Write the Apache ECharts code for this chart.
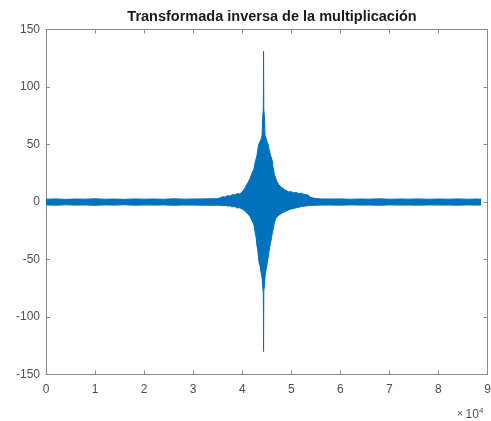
<!DOCTYPE html>
<html>
<head>
<meta charset="utf-8">
<script src="https://cdn.jsdelivr.net/npm/echarts@6/dist/echarts.min.js"></script>
<style>
  html, body { margin: 0; padding: 0; background: #fff; }
  #chart { width: 491px; height: 421px; }
</style>
</head>
<body>
<div id="chart"></div>
<script>
// Sample positions (index) at which the waveform's envelope is given
var sampleIdx = [
  0, 2000, 4000, 6000, 8000, 10000, 12000, 14000, 16000, 18000,
  20000, 22000, 24000, 26000, 28000, 30000, 32000, 34000,
  35000, 35500, 36000, 36500, 37000, 37500, 38000, 38500, 39000, 39500,
  40000, 40300, 40600, 40800, 41000, 41300, 41600, 41800, 42000, 42200,
  42400, 42650, 42850, 43000, 43150, 43260, 43450, 43600, 43800, 43950,
  44050, 44200, 44300, 44350, 44400, 44500, 44650, 44750, 44900, 45000,
  45150, 45300, 45450, 45600, 45750, 45900, 46120, 46300, 46400, 46550,
  46730, 46950, 47200, 47450, 47700, 47950, 48160, 48600, 49000, 49500,
  50000, 50500, 51000, 51500, 52000, 52600, 53300, 53900, 54500, 55200,
  56000,
  58000, 60000, 62000, 64000, 66000, 68000, 70000, 72000, 74000, 76000,
  78000, 80000, 82000, 84000, 86000, 88000, 88700
];
// Upper (max) envelope of the signal
var upperVals = [
  2.4, 2.7, 2.3, 2.6, 2.5, 2.8, 2.4, 2.6, 2.3, 2.7,
  2.5, 2.6, 2.4, 2.8, 2.5, 2.6, 2.7, 2.8,
  2.9, 3.6, 4.6, 4.3, 5.5, 5.1, 6.4, 6.1, 7.3, 7.0,
  8.6, 10.5, 12.5, 14.2, 13.8, 18, 20.5, 23, 22.5, 27,
  29, 35, 34.5, 40, 45, 48, 51, 50.5, 54, 56,
  58, 76, 80, 131, 80, 76, 58, 56.5, 55, 53,
  52, 50, 46, 45, 41, 39.5, 36, 30, 28.5, 24,
  22, 19, 17.5, 15, 14.6, 13, 13.3, 10.8, 10.2, 8.8,
  9.0, 8.0, 8.3, 7.4, 7.7, 6.6, 6.2, 4.2, 3.4, 3.0,
  2.7,
  2.6, 2.7, 2.4, 2.6, 2.5, 2.8, 2.4, 2.6, 2.5, 2.7,
  2.4, 2.6, 2.5, 2.7, 2.4, 2.6, 2.5
];
// Lower (min) envelope of the signal
var lowerVals = [
  -2.5, -2.8, -2.4, -2.7, -2.6, -2.9, -2.5, -2.7, -2.4, -2.8,
  -2.6, -2.7, -2.5, -2.9, -2.6, -2.7, -2.8, -2.8,
  -2.8, -2.9, -3.2, -3.0, -3.5, -3.3, -4.2, -4.0, -5.2, -5.0,
  -6.1, -6.8, -8.0, -8.5, -9.8, -11.5, -12.5, -14.5, -15.6, -18,
  -20, -27, -31, -38, -41, -46, -53, -55, -60, -64,
  -66, -75, -78, -130, -77, -74, -65, -62, -58, -56,
  -51, -48, -43, -42, -36, -33, -27, -24, -21, -18.5,
  -15.6, -13.5, -12.5, -11.5, -11, -10, -9.8, -8.5, -7.5, -6.8,
  -6.0, -5.6, -5.0, -4.6, -4.0, -3.6, -3.3, -3.0, -2.9, -2.8,
  -2.7,
  -2.6, -2.8, -2.5, -2.7, -2.6, -2.9, -2.5, -2.7, -2.6, -2.8,
  -2.5, -2.7, -2.6, -2.8, -2.5, -2.7, -2.6
];

var xTickStep = 10000;
var yTickLabels = [-150, -100, -50, 0, 50, 100, 150];

var lineColor = '#0072BD';
var axisColor = '#8a8a8a';
var textColor = '#505050';
var fontFam = '"Liberation Sans", Arial, Helvetica, sans-serif';

function pairs(xs, ys) {
  return xs.map(function (x, i) { return [x, ys[i]]; });
}

var chart = echarts.init(document.getElementById('chart'), null, { renderer: 'canvas' });

var gridBox = { left: 46, right: 3.5, top: 29.5, bottom: 46.5 };

function boxAxis(pos, showLabels, extra) {
  return Object.assign({
    type: 'value', position: pos,
    axisLine: { show: true, onZero: false, lineStyle: { color: axisColor, width: 1 } },
    axisTick: { show: true, inside: true, length: 4, lineStyle: { color: axisColor } },
    axisLabel: showLabels
      ? { color: textColor, fontFamily: fontFam, fontSize: 12 }
      : { show: false },
    splitLine: { show: false }
  }, extra);
}

var xRange = { min: 0, max: 90000, interval: xTickStep };
var yRange = { min: yTickLabels[0], max: yTickLabels[yTickLabels.length - 1], interval: 50 };

var xBottom = boxAxis('bottom', true, xRange);
xBottom.axisLabel.margin = 9;
xBottom.axisLabel.formatter = function (v) { return String(v / 10000); };
var yLeft = boxAxis('left', true, yRange);
yLeft.axisLabel.margin = 6;

var option = {
  animation: false,
  backgroundColor: '#ffffff',
  title: {
    text: 'Transformada inversa de la multiplicación',
    left: 267, top: 4, textAlign: 'center',
    textStyle: { fontFamily: fontFam, fontSize: 14.5, fontWeight: 'bold', color: '#1a1a1a' }
  },
  grid: Object.assign({ outerBoundsMode: 'none', containLabel: false }, gridBox),
  xAxis: [xBottom, boxAxis('top', false, xRange)],
  yAxis: [yLeft, boxAxis('right', false, yRange)],
  series: [{
    name: 'max',
    type: 'line', xAxisIndex: 0, yAxisIndex: 0,
    data: pairs(sampleIdx, upperVals),
    showSymbol: false, silent: true,
    lineStyle: { color: lineColor, width: 1 },
    areaStyle: { color: lineColor, opacity: 1, origin: 0 }
  }, {
    name: 'min',
    type: 'line', xAxisIndex: 0, yAxisIndex: 0,
    data: pairs(sampleIdx, lowerVals),
    showSymbol: false, silent: true,
    lineStyle: { color: lineColor, width: 1 },
    areaStyle: { color: lineColor, opacity: 1, origin: 0 }
  }],
  graphic: [{
    type: 'text', left: 457, top: 407,
    style: {
      text: '{m|× }{b|10}{s|4}',
      rich: {
        m: { fontFamily: fontFam, fontSize: 10, fill: textColor },
        b: { fontFamily: fontFam, fontSize: 12, fill: textColor },
        s: { fontFamily: fontFam, fontSize: 8, fill: textColor, verticalAlign: 'top', padding: [0, 0, 7, 0] }
      }
    }
  }]
};

chart.setOption(option);
</script>
</body>
</html>
